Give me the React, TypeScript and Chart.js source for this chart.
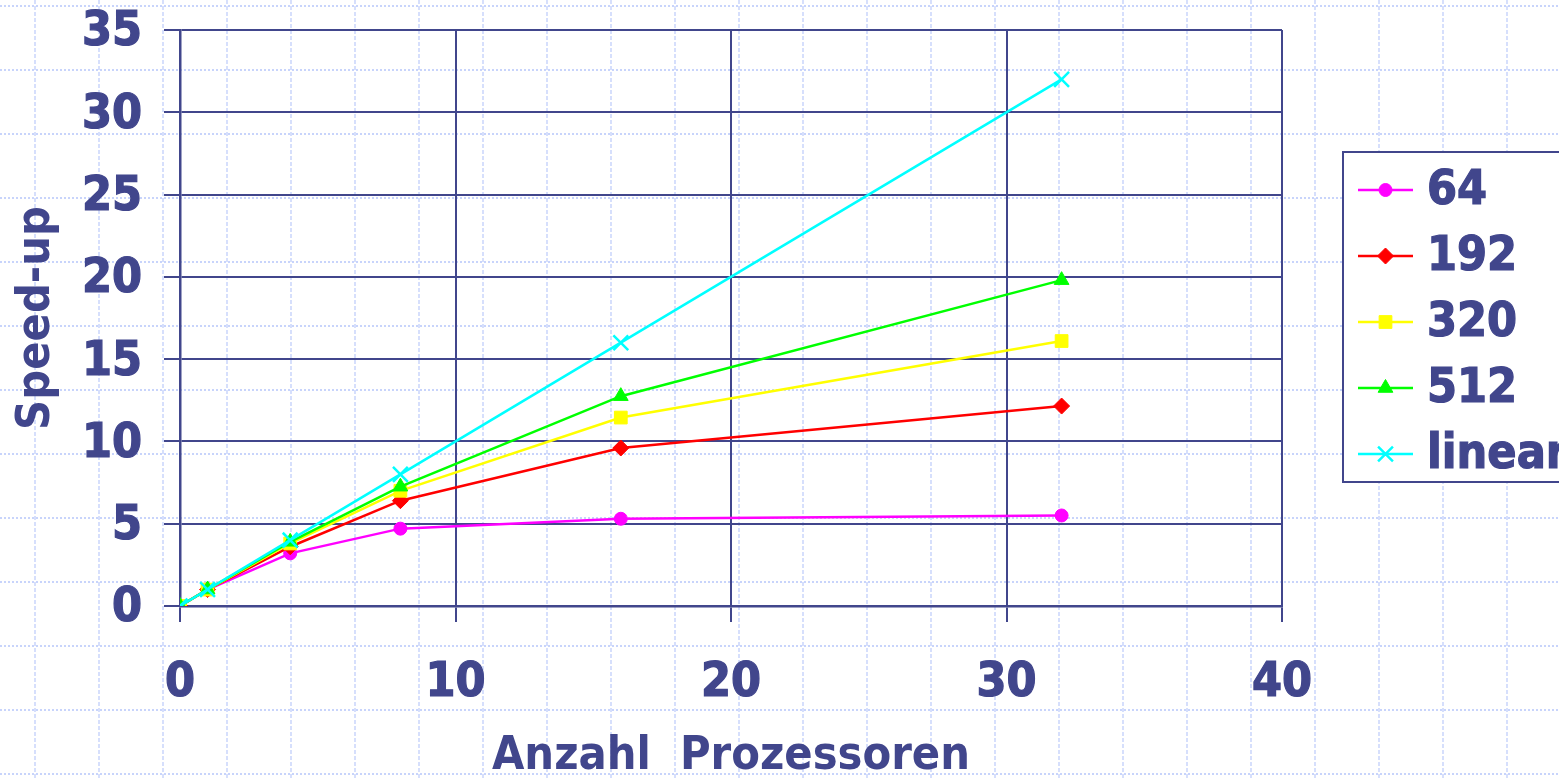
import React, { useEffect, useRef } from 'react';
import { Chart, registerables } from 'chart.js';
import { drawPoint } from 'chart.js/helpers';

Chart.register(...registerables);

// ---- data ----
const processors = [0, 1, 4, 8, 16, 32];
const speedup64 = [0, 1, 3.2, 4.7, 5.3, 5.5];
const speedup192 = [0, 1, 3.6, 6.4, 9.6, 12.15];
const speedup320 = [0, 1, 3.8, 7.0, 11.45, 16.1];
const speedup512 = [0, 1, 3.9, 7.25, 12.75, 19.8];
const speedupLinear = [0, 1, 4, 8, 16, 32];
const seriesNames = ['64', '192', '320', '512', 'linear'];
const xAxisTitle = 'Anzahl  Prozessoren';
const yAxisTitle = 'Speed-up';

const NAVY = '#41468c';
const FONT = "'DejaVu Sans Condensed', 'DejaVu Sans', sans-serif";

const seriesStyles = [
  { color: '#ff00ff', pointStyle: 'circle', radius: 6.5 },
  { color: '#ff0000', pointStyle: 'rectRot', radius: 8 },
  { color: '#ffff00', pointStyle: 'rect', radius: 9 },
  { color: '#00ff00', pointStyle: 'triangle', radius: 8.5 },
  { color: '#00ffff', pointStyle: 'crossRot', radius: 10.5 },
];

const seriesValues = [speedup64, speedup192, speedup320, speedup512, speedupLinear];

const backgroundPlugin = {
  id: 'slideBackground',
  beforeDraw(chart: any) {
    const { ctx, width, height } = chart;
    ctx.save();
    ctx.fillStyle = '#ffffff';
    ctx.fillRect(0, 0, width, height);
    ctx.strokeStyle = 'rgba(190,205,250,0.85)';
    ctx.lineWidth = 2;
    ctx.setLineDash([2, 2]);
    for (let y = 6; y < height; y += 64) {
      ctx.beginPath();
      ctx.moveTo(0, y);
      ctx.lineTo(width, y);
      ctx.stroke();
    }
    ctx.lineWidth = 1.5;
    ctx.setLineDash([4, 2]);
    for (let x = 35; x < width; x += 64) {
      ctx.beginPath();
      ctx.moveTo(x, 0);
      ctx.lineTo(x, height);
      ctx.stroke();
    }
    ctx.restore();
  },
};

const legendPlugin = {
  id: 'boxLegend',
  afterDraw(chart: any) {
    const { ctx } = chart;
    ctx.save();
    ctx.fillStyle = '#ffffff';
    ctx.fillRect(1343, 152, 240, 330);
    ctx.strokeStyle = NAVY;
    ctx.lineWidth = 2;
    ctx.setLineDash([]);
    ctx.strokeRect(1343, 152, 240, 330);
    chart.data.datasets.forEach((ds: any, i: number) => {
      const y = 190 + 66 * i;
      ctx.strokeStyle = ds.borderColor;
      ctx.lineWidth = 2.5;
      ctx.beginPath();
      ctx.moveTo(1358, y);
      ctx.lineTo(1413, y);
      ctx.stroke();
      ctx.fillStyle = ds.pointBackgroundColor;
      ctx.strokeStyle = ds.pointBorderColor;
      ctx.lineWidth = ds.pointBorderWidth;
      drawPoint(ctx, { pointStyle: ds.pointStyle, radius: ds.pointRadius, rotation: 0, borderWidth: ds.pointBorderWidth }, 1385.5, y);
      ctx.fillStyle = NAVY;
      ctx.strokeStyle = NAVY;
      ctx.lineWidth = 1.2;
      ctx.font = `bold 48px ${FONT}`;
      ctx.textAlign = 'left';
      ctx.textBaseline = 'middle';
      ctx.strokeText(ds.label, 1427, y + 2);
      ctx.fillText(ds.label, 1427, y + 2);
    });
    ctx.restore();
  },
};

export default function App() {
  const canvasRef = useRef<HTMLCanvasElement | null>(null);

  useEffect(() => {
    document.body.style.margin = '0';
    const canvas = canvasRef.current;
    if (!canvas) return;
    const datasets = seriesNames.map((name, i) => ({
      label: name,
      data: processors.map((p, j) => ({ x: p, y: seriesValues[i][j] })),
      borderColor: seriesStyles[i].color,
      backgroundColor: seriesStyles[i].color,
      pointBackgroundColor: seriesStyles[i].color,
      pointBorderColor: seriesStyles[i].color,
      pointBorderWidth: seriesStyles[i].pointStyle === 'crossRot' ? 2.5 : 1,
      pointStyle: seriesStyles[i].pointStyle,
      pointRadius: seriesStyles[i].radius,
      borderWidth: 2.5,
      tension: 0,
      fill: false,
      order: seriesNames.length - i,
    }));

    const zeroPad = (scale: any) => {
      scale.paddingTop = 0;
      scale.paddingBottom = 0;
      scale.paddingLeft = 0;
      scale.paddingRight = 0;
    };

    const chart = new Chart(canvas, {
      type: 'line',
      data: { datasets },
      plugins: [backgroundPlugin, legendPlugin],
      options: {
        animation: false,
        responsive: false,
        maintainAspectRatio: false,
        devicePixelRatio: 1,
        layout: { padding: { left: 0, top: 30, right: 277, bottom: 0 } },
        plugins: {
          legend: { display: false },
          tooltip: { enabled: false },
        },
        scales: {
          x: {
            type: 'linear',
            min: 0,
            max: 40,
            afterFit: (scale: any) => {
              scale.height = 174;
              zeroPad(scale);
            },
            ticks: {
              stepSize: 10,
              color: NAVY,
              padding: 33,
              textStrokeColor: NAVY,
              textStrokeWidth: 1.2,
              font: { family: FONT, size: 48, weight: 'bold' },
            },
            grid: {
              color: NAVY,
              lineWidth: 2,
              tickLength: 16,
              tickColor: NAVY,
              tickWidth: 2,
            },
            border: { display: true, color: NAVY, width: 2.5 },
            title: {
              display: true,
              text: xAxisTitle,
              color: NAVY,
              padding: { top: 0, bottom: 0 },
              font: { family: FONT, size: 46.5, weight: 'bold', lineHeight: 1 },
            },
          },
          y: {
            type: 'linear',
            min: 0,
            max: 35,
            afterFit: (scale: any) => {
              scale.width = 180;
              zeroPad(scale);
            },
            ticks: {
              stepSize: 5,
              color: NAVY,
              padding: 22,
              labelOffset: 3,
              textStrokeColor: NAVY,
              textStrokeWidth: 1.2,
              font: { family: FONT, size: 48, weight: 'bold' },
            },
            grid: {
              color: NAVY,
              lineWidth: 2,
              tickLength: 16,
              tickColor: NAVY,
              tickWidth: 2,
            },
            border: { display: true, color: NAVY, width: 2.5 },
            title: {
              display: true,
              text: yAxisTitle,
              color: NAVY,
              padding: { top: 14, bottom: 0 },
              font: { family: FONT, size: 46.5, weight: 'bold', lineHeight: 1 },
            },
          },
        },
      },
    } as any);

    return () => {
      chart.destroy();
    };
  }, []);

  return (
    <div style={{ position: 'fixed', left: 0, top: 0, width: 1559, height: 780 }}>
      <canvas ref={canvasRef} width={1559} height={780} style={{ display: 'block', width: 1559, height: 780 }} />
    </div>
  );
}
